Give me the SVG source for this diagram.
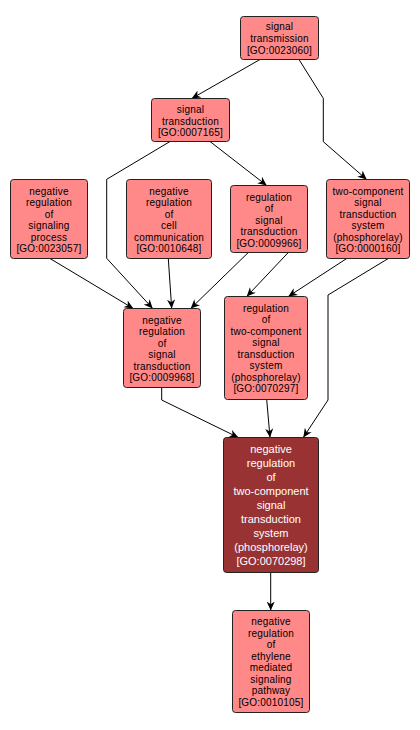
<svg xmlns="http://www.w3.org/2000/svg" width="420" height="730" viewBox="0 0 420 730">
<style>
.n rect{fill:#ff8888;stroke:#222;stroke-width:1}
.n text{font-family:"Liberation Sans",Arial,sans-serif;font-size:10px;letter-spacing:0.2px;fill:#000;text-anchor:middle}
.m rect{fill:#993333;stroke:#222;stroke-width:1}
.m text{font-family:"Liberation Sans",Arial,sans-serif;font-size:11px;fill:#fff;text-anchor:middle}
.e path{fill:none;stroke:#000;stroke-width:1;marker-end:url(#ah)}
</style>
<defs>
<marker id="ah" viewBox="0 0 10 10" refX="10" refY="5" markerWidth="9" markerHeight="9" markerUnits="userSpaceOnUse" orient="auto">
<path d="M0,0.5 L10,5 L0,9.5 L3,5 z" fill="#000"/>
</marker>
</defs>
<rect width="420" height="730" fill="#fff"/>
<g id="edges" class="e">
<path d="M260,59.5 L191.7,98.5"/>
<path d="M299,59.5 L323.3,98.3 L323.3,141.7 L366.7,179.5"/>
<path d="M210,141.5 L266.7,185.5"/>
<path d="M170,141.5 L106.7,179.3 L106.7,258.3 L152.7,308.5"/>
<path d="M50,258.5 L133.3,308.5"/>
<path d="M168.3,258.5 L171.7,308.5"/>
<path d="M248.3,252.5 L190.7,308.5"/>
<path d="M288.3,252.5 L246.7,296.5"/>
<path d="M346.7,258.5 L288.3,296.5"/>
<path d="M388.3,258.5 L328,295 L328,400 L303.3,437.5"/>
<path d="M161.7,387.5 L161.7,400 L238.3,437.5"/>
<path d="M266.7,399.5 L270,437.5"/>
<path d="M270.7,572.5 L270.7,610.5"/>
</g>
<g id="GO0023060" class="n">
<rect x="240.5" y="16.5" width="78" height="43" rx="3"/>
<text x="279.5" y="30">signal</text>
<text x="279.5" y="42">transmission</text>
<text x="279.5" y="54">[GO:0023060]</text>
</g>
<g id="GO0007165" class="n">
<rect x="151.5" y="98.5" width="78" height="43" rx="3"/>
<text x="190.5" y="112.5">signal</text>
<text x="190.5" y="124.5">transduction</text>
<text x="190.5" y="136">[GO:0007165]</text>
</g>
<g id="GO0023057" class="n">
<rect x="10.5" y="179.5" width="77" height="79" rx="3"/>
<text x="49" y="194.5">negative</text>
<text x="49" y="206">regulation</text>
<text x="49" y="217.5">of</text>
<text x="49" y="229">signaling</text>
<text x="49" y="240.5">process</text>
<text x="49" y="252">[GO:0023057]</text>
</g>
<g id="GO0010648" class="n">
<rect x="126.5" y="179.5" width="85" height="79" rx="3"/>
<text x="169" y="194.5">negative</text>
<text x="169" y="206">regulation</text>
<text x="169" y="217.5">of</text>
<text x="169" y="229">cell</text>
<text x="169" y="240.5">communication</text>
<text x="169" y="252">[GO:0010648]</text>
</g>
<g id="GO0009966" class="n">
<rect x="230.5" y="185.5" width="77" height="67" rx="3"/>
<text x="269" y="200.5">regulation</text>
<text x="269" y="212">of</text>
<text x="269" y="223.5">signal</text>
<text x="269" y="235">transduction</text>
<text x="269" y="246.5">[GO:0009966]</text>
</g>
<g id="GO0000160" class="n">
<rect x="326.5" y="179.5" width="83" height="79" rx="3"/>
<text x="368" y="194.5">two-component</text>
<text x="368" y="206">signal</text>
<text x="368" y="217.5">transduction</text>
<text x="368" y="229">system</text>
<text x="368" y="240.5">(phosphorelay)</text>
<text x="368" y="252">[GO:0000160]</text>
</g>
<g id="GO0009968" class="n">
<rect x="123.5" y="308.5" width="77" height="79" rx="3"/>
<text x="162" y="323.5">negative</text>
<text x="162" y="335">regulation</text>
<text x="162" y="346.5">of</text>
<text x="162" y="358">signal</text>
<text x="162" y="369.5">transduction</text>
<text x="162" y="381">[GO:0009968]</text>
</g>
<g id="GO0070297" class="n">
<rect x="224.5" y="296.5" width="83" height="103" rx="3"/>
<text x="266" y="311.5">regulation</text>
<text x="266" y="323">of</text>
<text x="266" y="334.5">two-component</text>
<text x="266" y="346">signal</text>
<text x="266" y="357.5">transduction</text>
<text x="266" y="369">system</text>
<text x="266" y="380.5">(phosphorelay)</text>
<text x="266" y="392">[GO:0070297]</text>
</g>
<g id="GO0070298" class="m">
<rect x="223.5" y="437.5" width="95" height="135" rx="3"/>
<text x="271" y="453">negative</text>
<text x="271" y="467">regulation</text>
<text x="271" y="481">of</text>
<text x="271" y="495">two-component</text>
<text x="271" y="509">signal</text>
<text x="271" y="523">transduction</text>
<text x="271" y="537">system</text>
<text x="271" y="551">(phosphorelay)</text>
<text x="271" y="565">[GO:0070298]</text>
</g>
<g id="GO0010105" class="n">
<rect x="232.5" y="610.5" width="77" height="102" rx="3"/>
<text x="271" y="625">negative</text>
<text x="271" y="636.5">regulation</text>
<text x="271" y="648">of</text>
<text x="271" y="659.5">ethylene</text>
<text x="271" y="671">mediated</text>
<text x="271" y="682.5">signaling</text>
<text x="271" y="694">pathway</text>
<text x="271" y="705.5">[GO:0010105]</text>
</g>
</svg>
